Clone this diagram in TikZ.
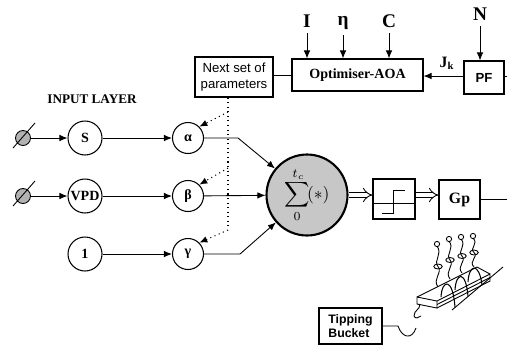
\documentclass[tikz,border=0pt]{standalone}
\usepackage{fontspec}
\setmainfont{Liberation Serif}
\setsansfont{Liberation Sans}
\usetikzlibrary{arrows.meta}
\begin{document}
\begin{tikzpicture}[x=0.02cm,y=-0.02cm,line width=0.5pt]
\tikzstyle{inp} = [circle,draw,semithick,minimum size=0.68cm,inner sep=0pt,font=\fontsize{8}{9}\selectfont\bfseries]
\tikzstyle{par} = [circle,draw,semithick,minimum size=0.62cm,inner sep=0pt,font=\fontsize{8}{9}\selectfont\bfseries]
\tikzstyle{zero} = [circle,draw,fill=black!30,minimum size=0.3cm,inner sep=0pt]
\tikzstyle{blk} = [draw,semithick,inner sep=0pt]
\tikzstyle{lbl} = [font=\fontsize{11}{12}\selectfont\bfseries,inner sep=1pt]
\tikzstyle{arr} = [arrows=-{Latex[length=1.6mm,width=1.3mm]}]
\tikzstyle{dbl} = [double,double distance=2.4pt,arrows=-{Implies}]
\useasboundingbox (0,0) rectangle (507,346);
% input layer
\node[font=\fontsize{7.5}{9}\selectfont\bfseries] (title) at (92,99) {INPUT LAYER};
\node[zero] (z1) at (23,138) {};
\node[zero] (z2) at (23,196) {};
\draw ([shift={(-10,10)}]z1.center) -- ([shift={(12,-15)}]z1.center);
\draw ([shift={(-10,10)}]z2.center) -- ([shift={(12,-15)}]z2.center);
\node[inp] (s) at (85,138) {S};
\node[inp] (vpd) at (85,196) {VPD};
\node[inp] (one) at (85,254) {1};
\node[par] (alpha) at (188,138) {α};
\node[par] (beta) at (188,196) {β};
\node[par] (gamma) at (188,254) {γ};
\node[circle,draw,line width=1.2pt,fill=black!22,minimum size=1.62cm,inner sep=0pt] (sum) at (307,195) {$\displaystyle\sum\limits_{0}^{\,t_c}\!(*)$};
\draw[arr] (z1) -- (s);
\draw[arr] (z2) -- (vpd);
\draw[arr] (s) -- (alpha);
\draw[arr] (vpd) -- (beta);
\draw[arr] (one) -- (gamma);
\draw[arr] (alpha.east) -- ++(34,0) -- (sum);
\draw[arr] (beta) -- (sum);
\draw[arr] (gamma.east) -- ++(36,0) -- (sum);
% optimiser
\node[blk,minimum width=1.56cm,minimum height=0.8cm,align=center,font=\sffamily\fontsize{7.5}{9}\selectfont] (next) at (234,77) {Next set of\\parameters};
\node[blk,minimum width=2.62cm,minimum height=0.64cm,font=\fontsize{8}{9}\selectfont\bfseries] (opt) at (357.5,75) {Optimiser-AOA};
\node[blk,minimum width=0.8cm,minimum height=0.66cm,font=\sffamily\bfseries\fontsize{7.5}{9}\selectfont] (pf) at (484,77.5) {PF};
\node[lbl] (i) at (307,21) {I};
\node[lbl] (eta) at (343,23) {η};
\node[lbl] (c) at (389,21) {C};
\node[lbl] (n) at (480,14) {N};
\node[lbl,font=\fontsize{9}{10}\selectfont\bfseries] (jk) at (447,63) {J\textsubscript{k}};
\coordinate (pfout) at (507,76);
\draw[arr,shorten <=2pt] (i) -- (i |- opt.north);
\draw[arr,shorten <=2pt] (eta) -- (eta |- opt.north);
\draw[arr,shorten <=2pt] (c) -- (c |- opt.north);
\draw[arr,shorten <=2pt] (n) -- (n |- pf.north);
\draw[arr] (pf.west |- pfout) -- (pfout -| opt.east);
\draw (pf.east |- pfout) -- (pfout);
\draw (next.east |- opt.west) -- (opt.west);
\coordinate (da) at (228,112);
\coordinate (db) at (228,168);
\coordinate (dc) at (228,230);
\draw[dotted,semithick] (next.south -| dc) -- (dc);
\draw[dotted,semithick,arr] (da) -- (alpha.north east);
\draw[dotted,semithick,arr] (db) -- (beta.north east);
\draw[dotted,semithick,arr] (dc) -- (gamma.north east);
% output
\node[blk,minimum width=0.84cm,minimum height=0.8cm] (step) at (394,199) {};
\draw ([yshift=-0.08cm]step.west) -- ([yshift=-0.08cm]step.east);
\draw (382,213) -- (393,213) -- (393,190) -- (405,190);
\node[blk,minimum width=0.82cm,minimum height=0.78cm,font=\fontsize{9}{10}\selectfont\bfseries] (gp) at (459.5,199.5) {Gp};
\coordinate (gpout) at (507,199);
\draw[dbl] (sum.east) -- (sum.east -| step.west);
\draw[dbl] (step.east |- sum.east) -- (gp.west |- sum.east);
\draw (gp.east |- gpout) -- (gpout);
% tipping bucket
\node[blk,minimum width=1.26cm,minimum height=0.72cm,align=left,font=\sffamily\bfseries\fontsize{7}{8}\selectfont] (tb) at (350.5,326) {Tipping\\Bucket};
\coordinate (hk) at (398,326);
\draw (tb.east) -- (hk) .. controls (402,338) and (412,340) .. (416,328);
\draw (417,297) -- (437,301) -- (437,308) -- (417,304) -- cycle;
\draw (417,297) -- (477,267) -- (490,274);
\draw (437,301) -- (490,274) -- (490,281) -- (437,308);
\draw (437,304.5) -- (490,277.5);
\draw (420,304) .. controls (420,310) and (414,310) .. (414,316) .. controls (415,319) and (419,318) .. (421,316);
\draw (452,310) -- (503,267);
\draw[semithick] (441,297) .. controls (442,279) and (453,277) .. (455,307.5);
\draw[semithick] (455,290) .. controls (456,272) and (466,270) .. (468,296.5);
\draw[semithick] (468,282) .. controls (469,264) and (479,262) .. (482,284.7);
\foreach \x/\y/\t in {438/287/246, 450/279/241, 462/273/239, 474/267/238}
{
  \draw (\x,\y) .. controls (\x-6,{\y-(\y-\t)*0.2}) and (\x+5,{\y-(\y-\t)*0.35}) .. (\x,{\y-(\y-\t)*0.5})
    .. controls (\x-5,{\y-(\y-\t)*0.65}) and (\x+5,{\y-(\y-\t)*0.8}) .. (\x-1,\t);
  \draw (\x,{\y-(\y-\t)*0.5}) ellipse (2.4pt and 1.4pt);
  \draw (\x-1,\t-2) circle (1.5pt);
}
\end{tikzpicture}
\end{document}
